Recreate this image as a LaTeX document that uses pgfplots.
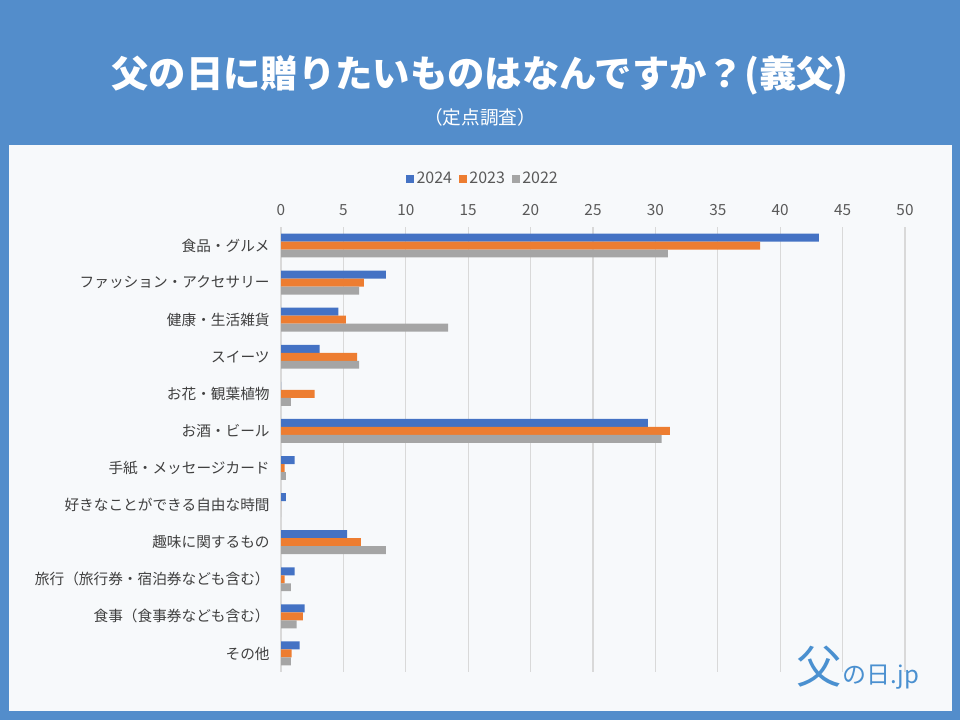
\documentclass[border=0pt]{standalone}
\usepackage{fontspec}
\usepackage{pgfplots}
\usepackage{pgfplotstable}
\pgfplotsset{compat=1.18}
\setmainfont{Noto Sans CJK JP}
\definecolor{bgblue}{HTML}{538DCB}
\definecolor{panel}{HTML}{F7F9FB}
\definecolor{c24}{HTML}{4472C4}
\definecolor{c23}{HTML}{ED7D31}
\definecolor{c22}{HTML}{A5A5A5}
\definecolor{txt}{HTML}{595959}
\definecolor{labtxt}{HTML}{404040}
\definecolor{gridc}{HTML}{D9D9D9}
\definecolor{logoc}{HTML}{4A90D0}

\pgfplotstableread{
c v
11 43.1
10 8.4
9 4.6
8 3.1
7 0
6 29.4
5 1.1
4 0.4
3 5.3
2 1.1
1 1.9
0 1.5
}\dA
\pgfplotstableread{
c v
11 38.4
10 6.65
9 5.2
8 6.1
7 2.7
6 31.15
5 0.3
4 0
3 6.4
2 0.3
1 1.75
0 0.85
}\dB
\pgfplotstableread{
c v
11 31.0
10 6.25
9 13.4
8 6.25
7 0.8
6 30.5
5 0.4
4 0
3 8.4
2 0.8
1 1.25
0 0.8
}\dC

\begin{document}
\begin{tikzpicture}
\begin{scope}[x=0.75pt,y=0.75pt]
\fill[bgblue] (0,0) rectangle (960,720);
\fill[panel] (9,9) rectangle (952,575);
\node[text=white,font=\fontsize{28}{33}\selectfont\bfseries] at (480,645) {父の日に贈りたいものはなんですか？(義父)};
\node[text=white,font=\fontsize{14}{17}\selectfont] at (480,603) {（定点調査）};
\node[text=logoc,font=\itshape] at (858,52) {{\fontsize{34}{34}\selectfont 父}{\fontsize{18}{18}\selectfont の日.jp}};
\end{scope}
\begin{axis}[
  at={(210.75pt,36pt)}, anchor=south west,
  width=468pt, height=333.75pt, scale only axis,
  xbar,
  xmin=0, xmax=50, ymin=-0.5, ymax=11.5,
  xtick={0,5,...,50},
  xticklabel pos=upper,
  xmajorgrids, grid style={gridc, line width=0.8pt},
  axis line style={draw=none},
  major tick length=0pt,
  ytick={0,...,11},
  yticklabels={その他,食事（食事券なども含む）,旅行（旅行券・宿泊券なども含む）,趣味に関するもの,好きなことができる自由な時間,手紙・メッセージカード,お酒・ビール,お花・観葉植物,スイーツ,健康・生活雑貨,ファッション・アクセサリー,食品・グルメ},
  /pgf/number format/assume math mode=true,
  xticklabel style={font=\fontsize{11.5}{13}\selectfont, text=txt, yshift=5pt},
  yticklabel style={font=\fontsize{11}{13}\selectfont, text=labtxt, xshift=-5pt},
  bar width=0.215,
  legend columns=3,
  legend style={draw=none, fill=none, at={(0.324,1)}, anchor=center, yshift=36pt,
    font=\fontsize{12}{14}\selectfont, text=txt,
    /tikz/every even column/.append style={column sep=3pt}},
  legend image code/.code={\fill[#1] (0pt,-3pt) rectangle (6pt,3pt);},
]
\addplot[fill=c24, draw=none, bar shift=0.215] table[x=v,y=c] {\dA};
\addplot[fill=c23, draw=none, bar shift=0] table[x=v,y=c] {\dB};
\addplot[fill=c22, draw=none, bar shift=-0.215] table[x=v,y=c] {\dC};
\legend{2024,2023,2022}
\end{axis}
\end{tikzpicture}
\end{document}
